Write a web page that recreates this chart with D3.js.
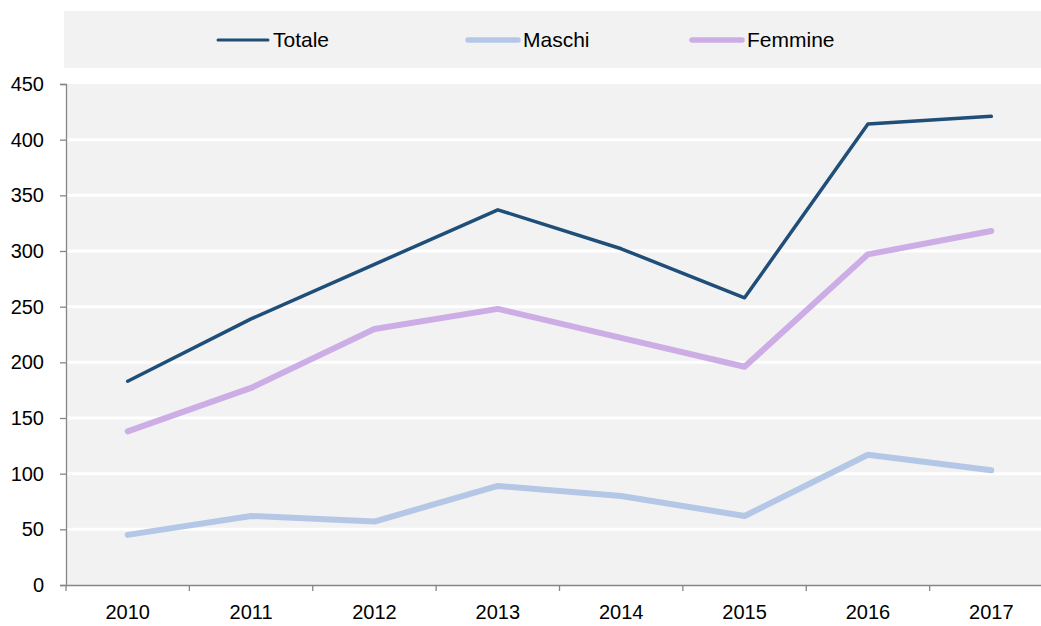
<!DOCTYPE html>
<html>
<head>
<meta charset="utf-8">
<script src="https://cdn.jsdelivr.net/npm/d3@7"></script>
<style>
  body { margin: 0; background: #fff; }
  svg { display: block; font-family: "Liberation Sans", Arial, sans-serif; }
</style>
</head>
<body>
<div id="chart"></div>
<script>
// dati
const anni = ["2010", "2011", "2012", "2013", "2014", "2015", "2016", "2017"];
const totale = [183, 239, 288, 337, 302, 258, 414, 421];
const maschi = [45, 62, 57, 89, 80, 62, 117, 103];
const femmine = [138, 177, 230, 248, 222, 196, 297, 318];
const yTicks = [0, 50, 100, 150, 200, 250, 300, 350, 400, 450];

const serie = [
    { name: "Totale", values: totale, color: "#1f4e79", width: 3.5 },
    { name: "Maschi", values: maschi, color: "#b4c7e7", width: 6 },
    { name: "Femmine", values: femmine, color: "#cdade5", width: 6 }
];

const W = 1041, H = 626;
const plot = { left: 66, top: 84, right: 1053, bottom: 585 };

const svg = d3.select("#chart").append("svg")
    .attr("width", W)
    .attr("height", H);

// legenda
svg.append("rect")
    .attr("x", 64).attr("y", 11)
    .attr("width", W - 64).attr("height", 57)
    .attr("fill", "#f2f2f2");

const legX = [218, 468, 692];
serie.forEach((s, i) => {
    const g = svg.append("g").attr("transform", `translate(${legX[i]},40)`);
    g.append("line")
        .attr("x1", 0).attr("x2", 50)
        .attr("stroke", s.color)
        .attr("stroke-width", s.width - 0.5)
        .attr("stroke-linecap", "round");
    g.append("text")
        .attr("x", 55).attr("dy", "0.35em")
        .attr("font-size", 21)
        .attr("fill", "#000")
        .text(s.name);
});

// scale
const x = d3.scaleBand().domain(anni).range([plot.left, plot.right]);
const y = d3.scaleLinear().domain([0, 450]).range([plot.bottom, plot.top]);

// sfondo area
svg.append("rect")
    .attr("x", plot.left).attr("y", plot.top)
    .attr("width", plot.right - plot.left)
    .attr("height", plot.bottom - plot.top)
    .attr("fill", "#f2f2f2");

// griglia
svg.append("g")
    .selectAll("line")
    .data(yTicks.filter(d => d > 0 && d < 450))
    .join("line")
    .attr("x1", plot.left).attr("x2", plot.right)
    .attr("y1", d => y(d)).attr("y2", d => y(d))
    .attr("stroke", "#fff")
    .attr("stroke-width", 3);

// assi
const yAxis = svg.append("g")
    .attr("transform", `translate(${plot.left},0)`)
    .call(d3.axisLeft(y).tickValues(yTicks).tickSize(6).tickPadding(16));
yAxis.select(".domain").attr("stroke", "#868686").attr("stroke-width", 1.3);
yAxis.selectAll(".tick line").attr("stroke", "#868686").attr("stroke-width", 1.3);
yAxis.selectAll("text").attr("font-size", 20).attr("fill", "#000")
    .attr("font-family", "Liberation Sans, Arial, sans-serif");

const xAxis = svg.append("g")
    .attr("transform", `translate(0,${plot.bottom})`)
    .call(d3.axisBottom(x).tickSize(0).tickPadding(20));
xAxis.select(".domain").attr("stroke", "#868686").attr("stroke-width", 1.3);
xAxis.selectAll("text").attr("font-size", 20).attr("fill", "#000")
    .attr("font-family", "Liberation Sans, Arial, sans-serif");

// tacche tra le categorie
svg.append("g")
    .selectAll("line")
    .data(anni)
    .join("line")
    .attr("x1", d => x(d)).attr("x2", d => x(d))
    .attr("y1", plot.bottom).attr("y2", plot.bottom + 6)
    .attr("stroke", "#868686")
    .attr("stroke-width", 1.3);

// linee
const line = d3.line()
    .x((d, i) => x(anni[i]) + x.bandwidth() / 2)
    .y(d => y(d));

svg.append("g")
    .selectAll("path")
    .data(serie)
    .join("path")
    .attr("d", d => line(d.values))
    .attr("fill", "none")
    .attr("stroke", d => d.color)
    .attr("stroke-width", d => d.width)
    .attr("stroke-linecap", "round")
    .attr("stroke-linejoin", "round");
</script>
</body>
</html>
